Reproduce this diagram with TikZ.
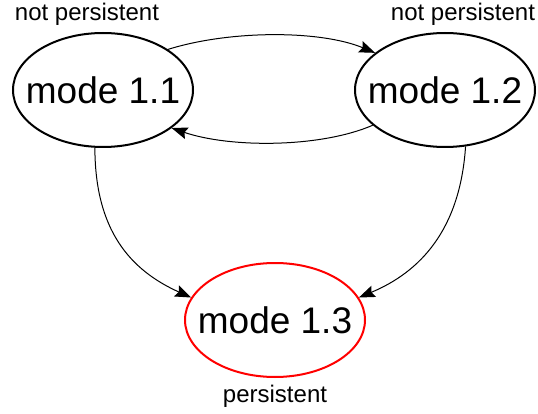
\documentclass[tikz,border=0pt]{standalone}
\usepackage{fontspec}
\setmainfont{Liberation Sans}
\usetikzlibrary{shapes.geometric,arrows.meta}
\begin{document}
\begin{tikzpicture}[x=1pt,y=-1pt,
  mode/.style={ellipse,draw,line width=2pt,minimum width=180pt,minimum height=114pt,inner sep=0pt,font=\fontsize{37}{42}\selectfont},
  lbl/.style={inner sep=0pt,font=\fontsize{24}{27}\selectfont},
  conn/.style={line width=1pt,-{Stealth[length=16pt,width=12pt,inset=2.5pt]}}]
\useasboundingbox (0,0) rectangle (538,414);
\node[mode] (m11) at (103,90) {\makebox[0pt]{mode 1.1}};
\node[mode] (m12) at (445,90) {\makebox[0pt]{mode 1.2}};
\node[mode,draw=red] (m13) at (275,320) {\makebox[0pt]{mode 1.3}};
\node[lbl] (l1) at (87,14) {not persistent};
\node[lbl] (l2) at (463,14) {not persistent};
\node[lbl] (l3) at (275,396) {persistent};
\draw[conn] (m11.32) .. controls (230,30) and (320,30) .. (m12.152);
\draw[conn] (m12.206) .. controls (320,148) and (230,148) .. (m11.331);
\draw[conn] (m11.262) .. controls (95,230) and (130,270) .. (m13.165);
\draw[conn] (m12.290) .. controls (460,230) and (420,272) .. (m13.15);
\end{tikzpicture}
\end{document}
